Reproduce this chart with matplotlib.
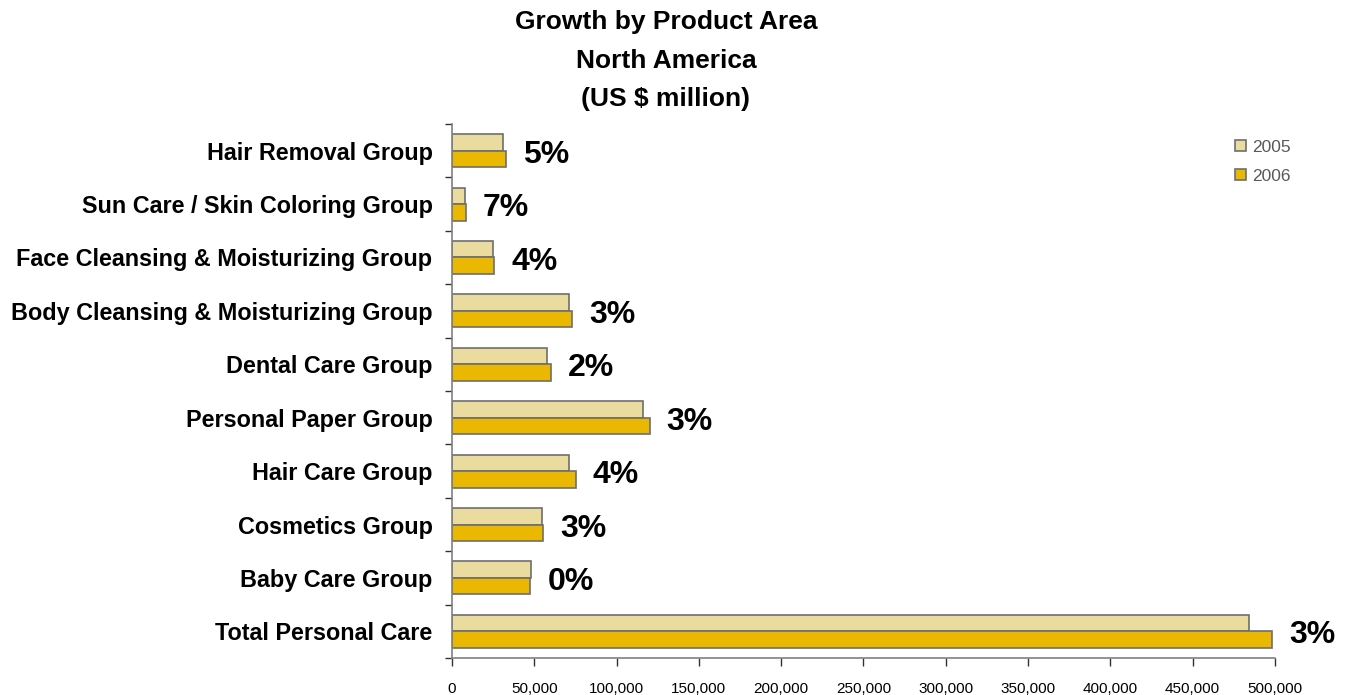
import matplotlib
matplotlib.use("Agg")
import matplotlib.pyplot as plt
import numpy as np
from matplotlib.ticker import FuncFormatter

categories = ["Total Personal Care", "Baby Care Group", "Cosmetics Group", "Hair Care Group",
              "Personal Paper Group", "Dental Care Group", "Body Cleansing & Moisturizing Group",
              "Face Cleansing & Moisturizing Group", "Sun Care / Skin Coloring Group", "Hair Removal Group"]
values_2005 = [484000, 48300, 54600, 71400, 116300, 58000, 70800, 25000, 7900, 31300]
values_2006 = [498500, 47300, 55600, 75100, 120200, 60000, 73000, 25800, 8700, 33100]
growth_labels = ["3%", "0%", "3%", "4%", "3%", "2%", "3%", "4%", "7%", "5%"]
series_names = ["2005", "2006"]
xticks = [0, 50000, 100000, 150000, 200000, 250000, 300000, 350000, 400000, 450000, 500000]

plt.rcParams['font.family'] = ['Liberation Sans', 'DejaVu Sans']

fig = plt.figure(figsize=(13.63, 6.95), dpi=100)
ax = fig.add_axes([0.3316, 0.0532, 0.6038, 0.7684])

y = np.arange(len(categories))
h = 0.31
c05 = "#E9DC9E"
c06 = "#EAB800"
edge = "#6E6E6E"
b1 = ax.barh(y + h / 2, values_2005, height=h, color=c05, edgecolor=edge, linewidth=1.2, label=series_names[0])
b2 = ax.barh(y - h / 2, values_2006, height=h, color=c06, edgecolor=edge, linewidth=1.2, label=series_names[1])

for i in range(len(categories)):
    xe = max(values_2005[i], values_2006[i])
    ax.annotate(growth_labels[i], xy=(xe, y[i]), xytext=(12, -3), textcoords="offset points",
                ha="left", va="center", fontsize=23, fontweight="bold", color="black")

ax.set_xlim(0, 500000)
ax.set_ylim(-0.5, len(categories) - 0.5)
ax.set_xticks(xticks)
ax.xaxis.set_major_formatter(FuncFormatter(lambda v, p: f"{int(v):,}"))
ax.set_yticks(y)
ax.set_yticklabels(categories, fontsize=16.8, fontweight="bold")
ax.set_yticks(np.arange(-0.5, len(categories), 1.0), minor=True)
ax.tick_params(axis="y", which="major", length=0, pad=14)
ax.tick_params(axis="y", which="minor", length=5, width=1, color="#333333", direction="out")
ax.tick_params(axis="x", which="major", length=6, width=1, color="#333333", direction="out",
               pad=11, labelsize=11)
for lab in ax.get_xticklabels():
    lab.set_fontfamily(['Liberation Sans Narrow', 'Liberation Sans'])

for s in ["top", "right"]:
    ax.spines[s].set_visible(False)
ax.spines["left"].set_color("#808080")
ax.spines["bottom"].set_color("#808080")
ax.spines["left"].set_linewidth(1.2)
ax.spines["bottom"].set_linewidth(1.2)

fig.text(0.4886, 0.985, "Growth by Product Area\nNorth America\n(US $ million)", ha="center", va="top",
         fontsize=19, fontweight="bold", linespacing=1.75)

leg = ax.legend(handles=[b1, b2], loc="upper left", bbox_to_anchor=(0.9385, 0.99), frameon=False,
                fontsize=12.5, handlelength=0.65, handleheight=0.65, handletextpad=0.35,
                labelspacing=0.8, borderaxespad=0.2)
for t in leg.get_texts():
    t.set_color("#595959")

fig.savefig("out.png", dpi=100)
